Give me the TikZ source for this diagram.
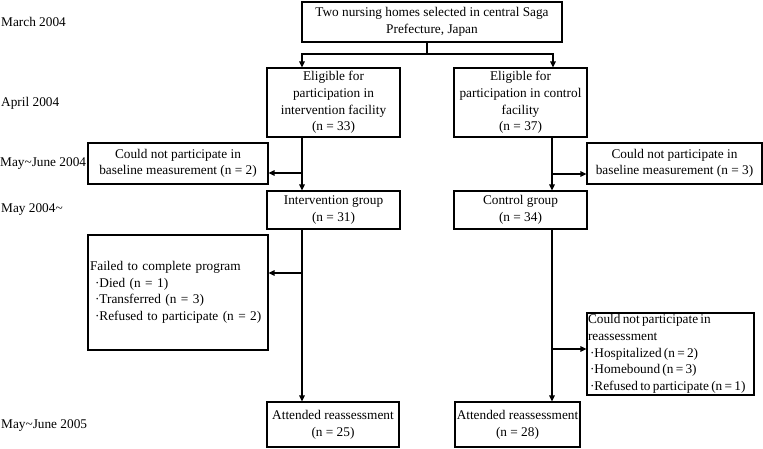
\documentclass[tikz,border=0pt]{standalone}
\usepackage{fontspec}
\setmainfont{Liberation Serif}
\usetikzlibrary{arrows.meta}
\begin{document}
\begin{tikzpicture}[x=1pt,y=-1pt,
  every node/.style={font=\fontsize{13.3}{16.6}\selectfont, text=black},
  box/.style={draw, line width=1.1pt, inner sep=0pt, align=center},
  lbox/.style={draw, line width=1.1pt, inner ysep=0pt, align=left},
  conn/.style={line width=1.8pt},
  arr/.style={conn, -{Triangle[length=6pt,width=5.5pt]}},
  lbl/.style={anchor=west, inner sep=0pt}]
\useasboundingbox (0,0) rectangle (763,449);

% time labels
\node[lbl] (t1) at (1,22) {March 2004};
\node[lbl] (t2) at (1,103) {April 2004};
\node[lbl] (t3) at (0,164) {May\textasciitilde June 2004};
\node[lbl] (t4) at (1,210) {May 2004\textasciitilde};
\node[lbl] (t5) at (1,426) {May\textasciitilde June 2005};

% boxes
\node[box, minimum width=260, minimum height=40] (top) at (432,22)
  {Two nursing homes selected in central Saga\\Prefecture, Japan};
\node[box, minimum width=133, minimum height=69] (eligL) at (333.5,102.5)
  {Eligible for\\participation in\\intervention facility\\(n = 33)};
\node[box, minimum width=133, minimum height=69] (eligR) at (520.5,102.5)
  {Eligible for\\participation in control\\facility\\(n = 37)};
\node[box, minimum width=180, minimum height=41] (noBaseL) at (178,163.5)
  {Could not participate in\\baseline measurement (n = 2)};
\node[box, minimum width=175, minimum height=41] (noBaseR) at (674.5,163.5)
  {Could not participate in\\baseline measurement (n = 3)};
\node[box, minimum width=133, minimum height=38] (intG) at (333.5,210)
  {Intervention group\\(n = 31)};
\node[box, minimum width=133, minimum height=38] (ctrlG) at (520.5,210)
  {Control group\\(n = 34)};
\node[lbox, inner xsep=2pt, text width=176, minimum height=115] (failed) at (178,292.5)
  {Failed to complete program\\
   \hspace*{5pt}·Died (n = 1)\\
   \hspace*{5pt}·Transferred (n = 3)\\
   \hspace*{5pt}·Refused to participate (n = 2)};
\node[lbox, inner xsep=1pt, text width=165, minimum height=82] (reass) at (670.5,354)
  {\spaceskip=0.17em\relax
   Could not participate in\\
   reassessment\\
   \hspace*{2pt}·Hospitalized (n = 2)\\
   \hspace*{2pt}·Homebound (n = 3)\\
   \hspace*{2pt}\mbox{·Refused to participate (n = 1)}};
\node[box, minimum width=132, minimum height=45] (attL) at (333,424.5)
  {Attended reassessment\\(n = 25)};
\node[box, minimum width=125, minimum height=45] (attR) at (517.5,424.5)
  {Attended reassessment\\(n = 28)};

% connector coordinates
\coordinate (cL) at (302,0);
\coordinate (cR) at (552,0);
\coordinate (sp) at (427,54);
\coordinate (bL1) at (302,173);
\coordinate (bR1) at (552,174);
\coordinate (bL2) at (302,273);
\coordinate (bR2) at (552,349);

\draw[conn] (top.south -| sp) -- (sp);
\draw[arr] (sp) -| (eligL.north -| cL);
\draw[arr] (sp) -| ([xshift=1pt]eligR.north -| cR);
\draw[arr] (eligL.south -| cL) -- (intG.north -| cL);
\draw[arr] (bL1) -- (bL1 -| noBaseL.east);
\draw[arr] (eligR.south -| cR) -- (ctrlG.north -| cR);
\draw[arr] (bR1) -- (bR1 -| noBaseR.west);
\draw[arr] (intG.south -| cL) -- (attL.north -| cL);
\draw[arr] (bL2) -- (bL2 -| failed.east);
\draw[arr] (ctrlG.south -| cR) -- (attR.north -| cR);
\draw[arr] (bR2) -- (bR2 -| reass.west);
\end{tikzpicture}
\end{document}
